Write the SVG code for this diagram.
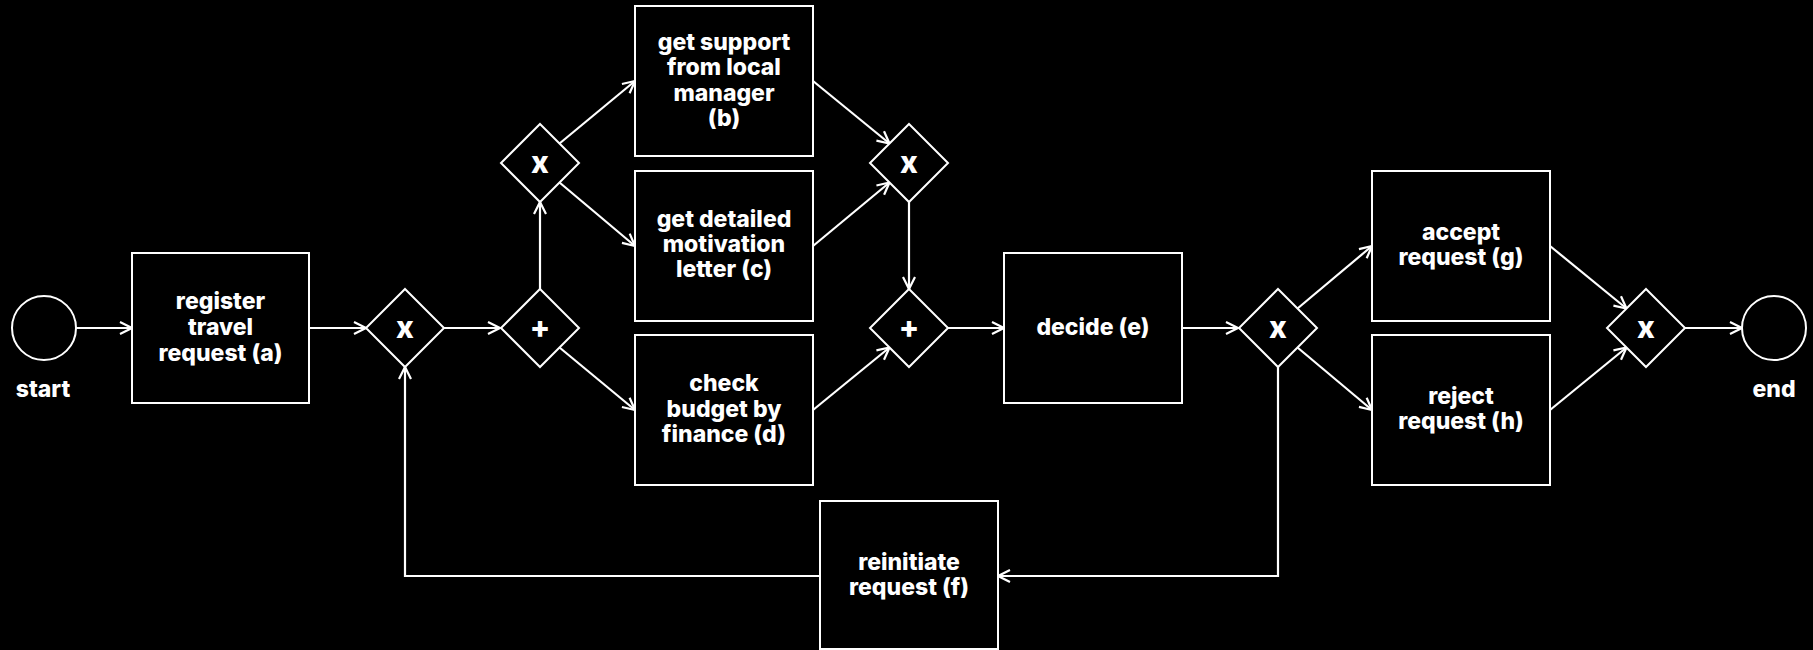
<svg xmlns="http://www.w3.org/2000/svg" width="1813" height="650" viewBox="0 0 1813 650">
  <style>
    .bg { fill: #000; }
    .task { fill: #000; stroke: #fff; stroke-width: 2; }
    .gw { fill: #000; stroke: #fff; stroke-width: 2; }
    .ev { fill: #000; stroke: #fff; stroke-width: 2; }
    .flow { fill: none; stroke: #fff; stroke-width: 2.2; }
    .lbl { fill: #fff; font-family: Inter, "Noto Sans", sans-serif; font-weight: 800; font-size: 23px; text-anchor: middle; }
    .sym { fill: #fff; font-family: Inter, "Noto Sans", sans-serif; font-weight: 800; font-size: 30px; text-anchor: middle; }
  </style>
  <defs>
    <marker id="arrow" markerUnits="userSpaceOnUse" markerWidth="16" markerHeight="16" refX="13" refY="7" orient="auto">
      <path d="M1,1 L13,7 L1,13" fill="none" stroke="#fff" stroke-width="2.2"/>
    </marker>
  </defs>
  <rect class="bg" x="0" y="0" width="1813" height="650"/>

  <!-- sequence flows -->
  <g id="connectors" class="flow" marker-end="url(#arrow)">
    <line x1="76" y1="328" x2="132" y2="328"/>
    <line x1="309" y1="328" x2="366" y2="328"/>
    <line x1="444" y1="328" x2="500" y2="328"/>
    <line x1="540" y1="289" x2="540" y2="202"/>
    <line x1="559.5" y1="143.5" x2="635" y2="81"/>
    <line x1="559.5" y1="182.5" x2="635" y2="246"/>
    <line x1="559.5" y1="347.5" x2="635" y2="410"/>
    <line x1="813" y1="81" x2="889.5" y2="143.5"/>
    <line x1="813" y1="246" x2="889.5" y2="182.5"/>
    <line x1="813" y1="410" x2="889.5" y2="347.5"/>
    <line x1="909" y1="202" x2="909" y2="289"/>
    <line x1="948" y1="328" x2="1004" y2="328"/>
    <line x1="1182" y1="328" x2="1238" y2="328"/>
    <line x1="1297.5" y1="308.5" x2="1372" y2="246"/>
    <line x1="1297.5" y1="347.5" x2="1372" y2="410"/>
    <line x1="1550" y1="246" x2="1626.5" y2="308.5"/>
    <line x1="1550" y1="410" x2="1626.5" y2="347.5"/>
    <line x1="1685" y1="328" x2="1742" y2="328"/>
    <polyline points="1278,367 1278,576 998,576"/>
    <polyline points="820,576 405,576 405,367"/>
  </g>

  <!-- events -->
  <g id="start">
    <circle class="ev" cx="44" cy="328" r="32"/>
    <text class="lbl" x="43" y="397">start</text>
  </g>
  <g id="end">
    <circle class="ev" cx="1774" cy="328" r="32"/>
    <text class="lbl" x="1774" y="397">end</text>
  </g>

  <!-- tasks -->
  <g id="task-a">
    <rect class="task" x="132" y="253" width="177" height="150"/>
    <text class="lbl"><tspan x="220.5" y="309">register</tspan><tspan x="220.5" y="335">travel</tspan><tspan x="220.5" y="361">request (a)</tspan></text>
  </g>
  <g id="task-b">
    <rect class="task" x="635" y="6" width="178" height="150"/>
    <text class="lbl"><tspan x="724" y="50">get support</tspan><tspan x="724" y="75">from local</tspan><tspan x="724" y="101">manager</tspan><tspan x="724" y="126">(b)</tspan></text>
  </g>
  <g id="task-c">
    <rect class="task" x="635" y="171" width="178" height="150"/>
    <text class="lbl"><tspan x="724" y="227">get detailed</tspan><tspan x="724" y="252">motivation</tspan><tspan x="724" y="277">letter (c)</tspan></text>
  </g>
  <g id="task-d">
    <rect class="task" x="635" y="335" width="178" height="150"/>
    <text class="lbl"><tspan x="724" y="391">check</tspan><tspan x="724" y="417">budget by</tspan><tspan x="724" y="442">finance (d)</tspan></text>
  </g>
  <g id="task-e">
    <rect class="task" x="1004" y="253" width="178" height="150"/>
    <text class="lbl" x="1093" y="335">decide (e)</text>
  </g>
  <g id="task-f">
    <rect class="task" x="820" y="501" width="178" height="148"/>
    <text class="lbl"><tspan x="909" y="570">reinitiate</tspan><tspan x="909" y="595">request (f)</tspan></text>
  </g>
  <g id="task-g">
    <rect class="task" x="1372" y="171" width="178" height="150"/>
    <text class="lbl"><tspan x="1461" y="240">accept</tspan><tspan x="1461" y="265">request (g)</tspan></text>
  </g>
  <g id="task-h">
    <rect class="task" x="1372" y="335" width="178" height="150"/>
    <text class="lbl"><tspan x="1461" y="404">reject</tspan><tspan x="1461" y="429">request (h)</tspan></text>
  </g>

  <!-- gateways -->
  <g id="gw-1">
    <polygon class="gw" points="405,289 444,328 405,367 366,328"/>
    <text class="sym" x="405" y="338">x</text>
  </g>
  <g id="gw-2">
    <polygon class="gw" points="540,289 579,328 540,367 501,328"/>
    <text class="sym" x="540" y="338">+</text>
  </g>
  <g id="gw-3">
    <polygon class="gw" points="540,124 579,163 540,202 501,163"/>
    <text class="sym" x="540" y="173">x</text>
  </g>
  <g id="gw-4">
    <polygon class="gw" points="909,124 948,163 909,202 870,163"/>
    <text class="sym" x="909" y="173">x</text>
  </g>
  <g id="gw-5">
    <polygon class="gw" points="909,289 948,328 909,367 870,328"/>
    <text class="sym" x="909" y="338">+</text>
  </g>
  <g id="gw-6">
    <polygon class="gw" points="1278,289 1317,328 1278,367 1239,328"/>
    <text class="sym" x="1278" y="338">x</text>
  </g>
  <g id="gw-7">
    <polygon class="gw" points="1646,289 1685,328 1646,367 1607,328"/>
    <text class="sym" x="1646" y="338">x</text>
  </g>
</svg>
